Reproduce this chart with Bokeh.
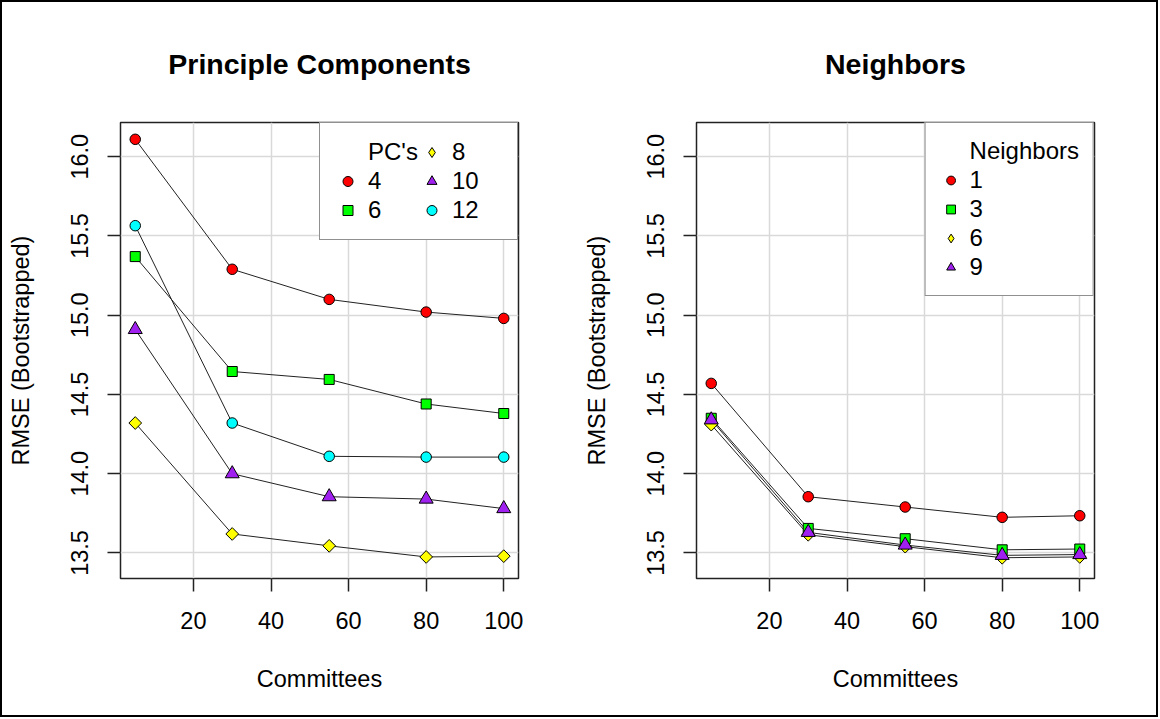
from bokeh.plotting import figure
from bokeh.models import Range1d, FixedTicker, PrintfTickFormatter, Legend, LegendItem
from bokeh.layouts import row
from bokeh.embed import file_html
from bokeh.resources import INLINE
import math

# ---------------- data ----------------
committees = [5, 30, 55, 80, 100]

pc_labels = ["4", "6", "8", "10", "12"]
pc4 = [16.11, 15.29, 15.10, 15.02, 14.98]
pc6 = [15.37, 14.645, 14.595, 14.44, 14.38]
pc8 = [14.32, 13.62, 13.545, 13.475, 13.48]
pc10 = [14.91, 14.00, 13.855, 13.84, 13.78]
pc12 = [15.565, 14.32, 14.11, 14.105, 14.105]

nb_labels = ["1", "3", "6", "9"]
nb1 = [14.57, 13.855, 13.79, 13.725, 13.735]
nb3 = [14.35, 13.655, 13.59, 13.52, 13.525]
nb6 = [14.31, 13.615, 13.54, 13.47, 13.475]
nb9 = [14.34, 13.63, 13.55, 13.485, 13.49]

x_ticks = [20, 40, 60, 80, 100]
y_ticks = [13.5, 14.0, 14.5, 15.0, 15.5, 16.0]

# ---------------- styles ----------------
FONT = "Liberation Sans"
BASE = "23.5px"
MARK = {
    "circle_red": dict(marker="circle", fill_color="#ff0000", size=10.5, angle=0.0, leg="circle"),
    "square_green": dict(marker="square", fill_color="#00ff00", size=10, angle=0.0, leg="square"),
    "diamond_yellow": dict(marker="square", fill_color="#ffff00", size=9, angle=math.pi / 4, leg="diamond"),
    "triangle_purple": dict(marker="triangle", fill_color="#a020f0", size=14, angle=0.0, leg="triangle"),
    "circle_cyan": dict(marker="circle", fill_color="#00ffff", size=10.5, angle=0.0, leg="circle"),
}


def make_panel(title, series, legend_title, ncols, width, mb_left, mb_right,
               leg_pad, leg_glyph_w):
    p = figure(width=width, height=713, x_range=Range1d(1.2, 103.8),
               y_range=Range1d(13.339, 16.216), output_backend="svg",
               toolbar_location=None, min_border_left=mb_left,
               min_border_right=mb_right, min_border_top=120,
               min_border_bottom=137, background_fill_color="white",
               border_fill_color="white")
    p.title.text = title
    p.title.align = "center"
    p.title.text_font = FONT
    p.title.text_font_size = "28.5px"
    p.title.text_font_style = "bold"
    p.title.text_color = "black"
    p.title.standoff = 85

    p.xaxis.ticker = FixedTicker(ticks=x_ticks)
    p.yaxis.ticker = FixedTicker(ticks=y_ticks)
    p.xgrid.ticker = FixedTicker(ticks=x_ticks)
    p.ygrid.ticker = FixedTicker(ticks=y_ticks)
    p.yaxis.formatter = PrintfTickFormatter(format="%.1f")
    p.yaxis.major_label_orientation = "vertical"
    for ax in (p.xaxis, p.yaxis):
        ax.axis_line_color = None
        ax.major_tick_line_color = "#222222"
        ax.major_tick_line_width = 1.5
        ax.major_tick_out = 13
        ax.major_tick_in = 0
        ax.minor_tick_line_color = None
        ax.major_label_text_font = FONT
        ax.major_label_text_font_size = BASE
        ax.major_label_text_color = "black"
        ax.axis_label_text_font = FONT
        ax.axis_label_text_font_size = BASE
        ax.axis_label_text_font_style = "normal"
        ax.axis_label_text_color = "black"
    p.xaxis.axis_label = "Committees"
    p.yaxis.axis_label = "RMSE (Bootstrapped)"
    p.xaxis.major_label_standoff = 20
    p.xaxis.axis_label_standoff = 34
    p.yaxis.major_label_standoff = 19
    p.yaxis.axis_label_standoff = 35

    for g in (p.xgrid, p.ygrid):
        g.grid_line_color = "#d9d9d9"
        g.grid_line_width = 1.5
    p.outline_line_color = "#222222"
    p.outline_line_width = 1.5

    items = []
    dummy = p.scatter(committees, series[0][1], marker="circle", size=1,
                      fill_alpha=0, line_alpha=0, visible=False)
    items.append(LegendItem(label=legend_title, renderers=[dummy]))
    for lab, vals, st in series:
        p.line(committees, vals, line_color="#222222", line_width=1)
    for lab, vals, st in series:
        s = MARK[st]
        p.scatter(committees, vals, marker=s["marker"], size=s["size"],
                  angle=s["angle"], fill_color=s["fill_color"],
                  line_color="black", line_width=1)
        proxy = p.scatter(committees, vals, marker=s["leg"], size=s["size"],
                          fill_color=s["fill_color"], line_color="black",
                          line_width=1, visible=False)
        items.append(LegendItem(label=lab, renderers=[proxy]))

    leg = Legend(items=items, location="top_right", ncols=ncols)
    leg.margin = 0
    leg.padding = leg_pad
    leg.spacing = 1
    leg.glyph_width = leg_glyph_w
    leg.glyph_height = 26
    leg.label_height = 26
    leg.label_standoff = 8
    leg.label_width = 50
    leg.label_text_font = FONT
    leg.label_text_font_size = "24px"
    leg.label_text_color = "black"
    leg.border_line_color = "#222222"
    leg.border_line_width = 1.5
    leg.background_fill_color = "white"
    leg.background_fill_alpha = 1.0
    p.add_layout(leg)
    return p


p1 = make_panel("Principle Components",
                [(pc_labels[0], pc4, "circle_red"),
                 (pc_labels[1], pc6, "square_green"),
                 (pc_labels[2], pc8, "diamond_yellow"),
                 (pc_labels[3], pc10, "triangle_purple"),
                 (pc_labels[4], pc12, "circle_cyan")],
                "PC's", 2, 578, 118, 62, 15, 25)
p2 = make_panel("Neighbors",
                [(nb_labels[0], nb1, "circle_red"),
                 (nb_labels[1], nb3, "square_green"),
                 (nb_labels[2], nb6, "diamond_yellow"),
                 (nb_labels[3], nb9, "triangle_purple")],
                "Neighbors", 1, 576, 116, 62, 14, 22)

layout = row(p1, p2, styles={"border": "2px solid black"})

open("out.html", "w").write(file_html(layout, INLINE))
